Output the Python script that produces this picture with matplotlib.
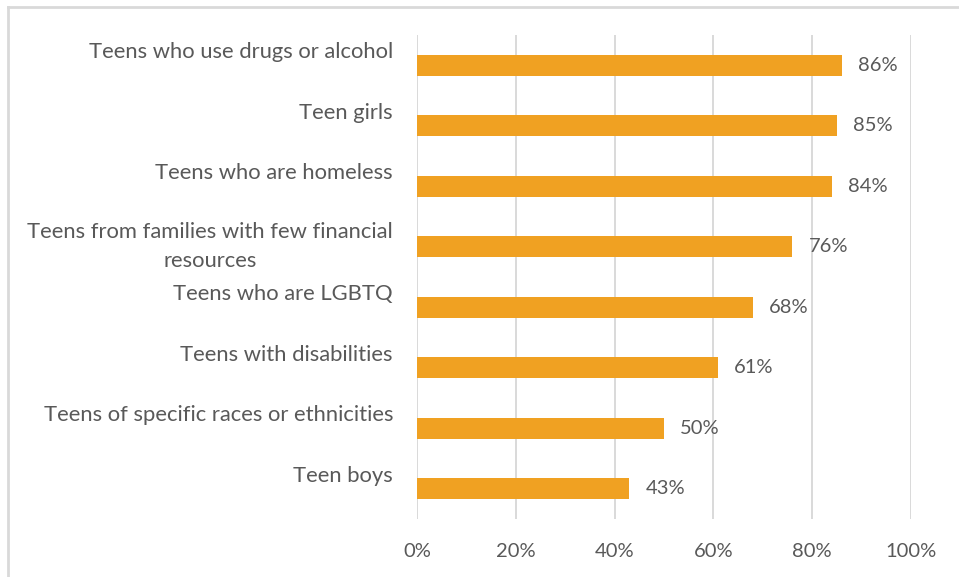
import matplotlib
matplotlib.use("Agg")
import matplotlib.pyplot as plt
from matplotlib.lines import Line2D

categories = [
    "Teens who use drugs or alcohol",
    "Teen girls",
    "Teens who are homeless",
    "Teens from families with few financial\nresources",
    "Teens who are LGBTQ",
    "Teens with disabilities",
    "Teens of specific races or ethnicities",
    "Teen boys",
]
values = [86, 85, 84, 76, 68, 61, 50, 43]
xticks = [0, 20, 40, 60, 80, 100]
xtick_labels = ["0%", "20%", "40%", "60%", "80%", "100%"]

BAR = "#F0A122"
TEXT = "#595959"
GRID = "#D9D9D9"
FONT = "Lato"

W, H = 959, 577
fig = plt.figure(figsize=(W / 100, H / 100), dpi=100)
fig.patch.set_facecolor("white")

ax = fig.add_axes([417 / W, (H - 519) / H, (911 - 417) / W, (519 - 35) / H])
y = list(range(len(categories)))
ax.barh(y, values, height=0.35, color=BAR, zorder=3)

ax.set_xlim(0, 100)
ax.set_ylim(len(categories) - 0.5, -0.5)
ax.set_xticks(xticks)
ax.set_xticklabels(xtick_labels, fontfamily=FONT, fontsize=14.5, color=TEXT)
ax.tick_params(axis="x", length=0, pad=17)
ax.set_yticks([])
for s in ax.spines.values():
    s.set_visible(False)
ax.grid(axis="x", color=GRID, linewidth=1.4, zorder=0)
ax.set_axisbelow(True)

# category labels, right-aligned left of the axis
for i, lab in enumerate(categories):
    dy = 0 if "\n" in lab else 13
    ax.annotate(lab, xy=(0, i), xycoords=("axes fraction", "data"),
                xytext=(-24, dy), textcoords="offset pixels",
                ha="right", va="center", multialignment="center",
                fontfamily=FONT, fontsize=15.8, color=TEXT, linespacing=1.55)

# value labels at the end of each bar
for i, v in enumerate(values):
    ax.annotate(f"{v}%", xy=(v, i), xytext=(16, 0), textcoords="offset pixels",
                ha="left", va="center", fontfamily=FONT, fontsize=14.5, color=TEXT)

# chart frame (top and left edges)
fig.add_artist(Line2D([7.5 / W, 7.5 / W], [0, 1 - 6.5 / H], transform=fig.transFigure,
                      color=GRID, linewidth=2))
fig.add_artist(Line2D([7.5 / W, 1], [1 - 6.5 / H, 1 - 6.5 / H], transform=fig.transFigure,
                      color=GRID, linewidth=2))

fig.savefig("out.png", dpi=100)
